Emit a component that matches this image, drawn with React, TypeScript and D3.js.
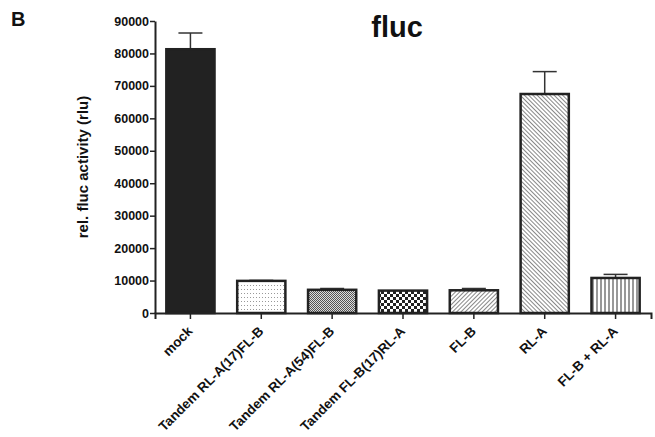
import * as d3 from 'd3';
import {useEffect, useRef} from "react";

const categories = ["mock", "Tandem RL-A(17)FL-B", "Tandem RL-A(54)FL-B", "Tandem FL-B(17)RL-A", "FL-B", "RL-A", "FL-B + RL-A"];
const means = [81300, 9900, 7150, 6900, 7000, 67500, 10800];
const errors = [5000, 150, 400, 0, 550, 6900, 1100];
const patterns = ["solid", "dots", "fine", "checker", "diagUp", "diagDown", "vert"];
const yTicks = [0, 10000, 20000, 30000, 40000, 50000, 60000, 70000, 80000, 90000];

export default function App({
                                width = 655, height = 437,
                                marginTop = 20, marginRight = 4,
                                marginBottom = 124, marginLeft = 155
                            }) {
    const gx = useRef(null);
    const gy = useRef(null);
    const x = d3.scaleBand(categories, [marginLeft, width - marginRight]).paddingInner(0.32).paddingOuter(0.16);
    const y = d3.scaleLinear([0, 90000], [height - marginBottom, marginTop + 1]);
    const font = "Arial, 'Liberation Sans', sans-serif";

    useEffect(() => {
        const g = d3.select(gx.current);
        g.call(d3.axisBottom(x).tickSizeOuter(0).tickSize(6).tickFormat(() => ""));
        g.select(".domain").attr("stroke", "#222").attr("stroke-width", 2);
        g.selectAll(".tick line").attr("stroke", "#222").attr("stroke-width", 1.5);
    }, [x]);
    useEffect(() => {
        const g = d3.select(gy.current);
        g.call(d3.axisLeft(y).tickValues(yTicks).tickSize(5).tickSizeOuter(0).tickFormat(d3.format("d")));
        g.select(".domain").attr("stroke", "#222").attr("stroke-width", 2);
        g.selectAll(".tick line").attr("stroke", "#222").attr("stroke-width", 1.5);
        g.selectAll(".tick text").attr("font-family", font).attr("font-weight", "bold")
            .attr("font-size", 12.5).attr("fill", "#111").attr("x", -6);
    }, [y]);

    const fillFor = (p) => p === "solid" ? "#222" : `url(#pat-${p})`;

    return (
        <svg width={width} height={height} style={{position: "absolute", left: 0, top: 0}}>
            <defs>
                <pattern id="pat-dots" width="3" height="4" patternUnits="userSpaceOnUse">
                    <rect width="3" height="4" fill="white"/>
                    <rect x="1" y="1" width="1" height="1" fill="#999"/>
                </pattern>
                <pattern id="pat-fine" width="2" height="2" patternUnits="userSpaceOnUse">
                    <rect width="2" height="2" fill="#ddd"/>
                    <rect width="1" height="1" fill="#555"/>
                    <rect x="1" y="1" width="1" height="1" fill="#555"/>
                </pattern>
                <pattern id="pat-checker" width="6" height="6" patternUnits="userSpaceOnUse">
                    <rect width="6" height="6" fill="white"/>
                    <rect width="3" height="3" fill="#222"/>
                    <rect x="3" y="3" width="3" height="3" fill="#222"/>
                </pattern>
                <pattern id="pat-diagUp" width="3" height="3" patternUnits="userSpaceOnUse" patternTransform="rotate(45)">
                    <rect width="3" height="3" fill="white"/>
                    <line x1="0" y1="0" x2="0" y2="3" stroke="#555" strokeWidth="1.4"/>
                </pattern>
                <pattern id="pat-diagDown" width="3" height="3" patternUnits="userSpaceOnUse" patternTransform="rotate(-45)">
                    <rect width="3" height="3" fill="white"/>
                    <line x1="0" y1="0" x2="0" y2="3" stroke="#555" strokeWidth="1.4"/>
                </pattern>
                <pattern id="pat-vert" width="4" height="4" patternUnits="userSpaceOnUse">
                    <rect width="4" height="4" fill="white"/>
                    <line x1="1" y1="0" x2="1" y2="4" stroke="#333" strokeWidth="1"/>
                </pattern>
            </defs>
            <text x={11} y={26} fontFamily={font} fontWeight="bold" fontSize={20} fill="#111">B</text>
            <text x={397} y={37} textAnchor="middle" fontFamily={font} fontWeight="bold" fontSize={29} fill="#111">fluc</text>
            <text transform={`translate(88,${(y(0) + y(90000)) / 2}) rotate(-90)`} textAnchor="middle"
                  fontFamily={font} fontWeight="bold" fontSize={15} fill="#111">rel. fluc activity (rlu)</text>
            {categories.map((c, i) => {
                const cx = x(c) + x.bandwidth() / 2;
                return (
                    <g key={c}>
                        {errors[i] > 0 && (
                            <g stroke="#333" strokeWidth="1.5">
                                <line x1={cx} x2={cx} y1={y(means[i])} y2={y(means[i] + errors[i])}/>
                                <line x1={cx - 12} x2={cx + 12} y1={y(means[i] + errors[i])} y2={y(means[i] + errors[i])}/>
                            </g>
                        )}
                        <rect x={x(c)} y={y(means[i])} width={x.bandwidth()} height={y(0) - y(means[i])}
                              fill={fillFor(patterns[i])} stroke="#222" strokeWidth="2.5"/>
                        <text transform={`translate(${cx + 3},${y(0) + 19}) rotate(-45)`} textAnchor="end"
                              fontFamily={font} fontWeight="bold" fontSize={13.5} fill="#111">{c}</text>
                    </g>
                );
            })}
            <g ref={gx} transform={`translate(0,${height - marginBottom})`}/>
            <g ref={gy} transform={`translate(${marginLeft},0)`}/>
        </svg>
    );
}
